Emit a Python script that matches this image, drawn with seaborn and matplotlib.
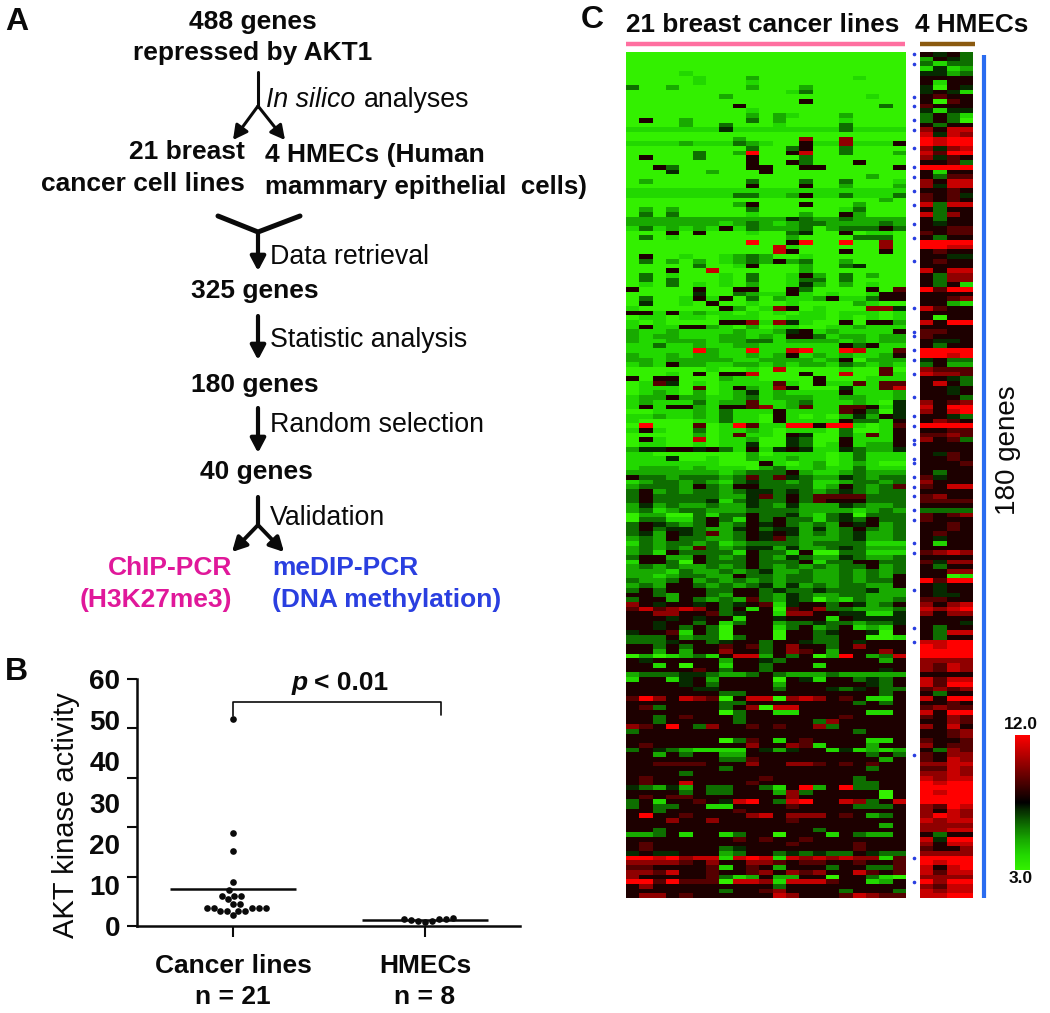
import numpy as np
import pandas as pd
import matplotlib
matplotlib.use("Agg")
import matplotlib.pyplot as plt
from matplotlib.colors import LinearSegmentedColormap
import seaborn as sns

# ── DATA ─────────────────────────────────────────────────────
# panel B
cancer_lines = [50.3, 22.6, 18.2, 10.7, 8.7, 7.4, 7.4, 7.4, 6.5, 5.4, 5.4,
                4.4, 4.4, 4.4, 4.4, 4.4, 3.6, 3.6, 3.6, 3.6, 2.6]
hmecs = [1.9, 1.7, 1.4, 1.2, 0.9, 1.2, 1.6, 1.8]
group_names = ["Cancer lines\nn = 21", "HMECs\nn = 8"]

# panel C, one digit per cell, expression = digit + 3 (3.0 to 12.0)
cancer_rows = [
    "000000000000000000000", "000000000000000000000", "000000000000000000000", "000000000000000000000",
    "000010000000000000000", "000001000200000001000", "000001000100000000000", "300200000200020000000",
    "000000000000130000000", "000000020000000000100", "000000000000050000000", "000000005000000000030",
    "000000000100000000000", "000000000202100020000", "050020000302000010000", "000020030001000030000",
    "111111141111111131111", "000000000000000000000", "000000002000070070000", "111121113210051171115",
    "000000000300350030000", "000003002900580030002", "050003000500030000000", "000000000500530005000",
    "005300000550055000005", "000400200050000000000", "000000000000000000200", "020000000300030030001",
    "000000000500050020002", "111111111111111111111", "111111113311251131113", "000000000000000000020",
    "000000002500050002000", "020200000300000013000", "030300000100020052000", "222222222222432232222",
    "222222212321233222232", "131212151322230233353", "000505000100340050110", "030100000000200003330",
    "000000000900590090070", "000000000008100000070", "000000000008500050050", "050010012320010000000",
    "030202012325230020000", "000003001500020034000", "000500800000020000000", "030100010300152030200",
    "030300010300133030000", "010301010200142020100", "500005005500530000506", "000004003211510100155",
    "030015150302112511355",
    # rows 54-117
    "040010500100100002100", "100000052017501000774", "551512110101011011101", "011011011100111010101",
    "101000055717410050552", "151155210201100112111", "211211112112451211115", "212211122121553122122",
    "211222122331222212122", "113112112211111153511", "111119211911891198116", "211212211212512121125",
    "221222221122221250222", "121522112212122132121", "000000100108000010060", "000105055800050080061",
    "505500021100005000111", "016401011116105116166", "011106015217500041168", "012102012412111151112",
    "122522112312221122112", "121113122611231112104", "151552155671261166514", "001112131115111165304",
    "112112131105101024254", "100001131105111153315", "090006019611995991016", "151003011210111030015",
    "000002016110540031615", "051008011200430051115", "011001011400430151225", "244554531514541143224",
    "110000000201111013111", "111400100211211013111", "111111100051012012100", "122212111023112113111",
    "222222212333521123222", "533233323636432243233", "123323213433231123323", "233325325533331253236",
    "352323323443432343233", "353333322463536666333", "353333413433536555333", "242322322432422243223",
    "231233222333322221232", "022003133533421340333", "033113531535331343533", "354323523545323254523",
    "353443224534424235323", "342543623545423234223", "232533223546322234223", "132332312333323333111",
    "232326323442422343222", "231533331533150033111", "355225323532432243223", "155305333533351335533",
    "232322323532323233523", "222132232342232232323", "221233225332332232325", "322352323232332232335",
    "232553232342423233225", "353555335534334333422", "553255325532432233222", "355253232632430213223",
    # rows 118-180
    "754554534561455354235", "686787535150657332223", "557755634551775544114", "555454551554555154444",
    "554553513552334332334", "554535305551352351215", "455615305550553455405", "333523303550553355001",
    "333455345535543354555", "553535565635755357555", "552525575535765255575", "020123158825350295238",
    "545555525543555555525", "551505515535551555555", "555556535535555555545", "233344322353222322222",
    "155145255550541553435", "555545355552555555435", "555554455553555434533", "555555533555555555535",
    "697587605880787565115", "555555533555555553535", "563555535708855555555", "555555503551155555115",
    "553565553555555565555", "553555553555553755555", "765953755656557355555", "355555555555555553555",
    "555555555555555555555", "555555503651565555115", "565555555755761555255", "354321111542455141212",
    "552535522555555555353", "555555533655555555525", "556666555755776565655", "555555535555555555355",
    "555535555555555555555", "565555555565555553555", "565585555655555553355", "432425335531592593355",
    "555535335552735555505", "565665555555755555505", "351556548953895587358", "353355115555655553335",
    "553555556555555555555", "595565555785777565235", "555755755555655555555", "555555555555555555525",
    "553555555555553555555", "223515513550555153225", "555555556565565555555", "565555555555655556555",
    "565555534555555556555", "454455523553434335433", "998978818981878787716", "777765755776566556556",
    "665555615652555355336", "776855655675767558656", "755555631252255055310", "996966608871888655125",
    "575555555553555555555", "555555535567555535553", "577565555558755568766",
]
hmec_rows = [
    "5453", "2543", "3133", "1412", "4423", "5555", "5155", "4054", "4541", "5655", "5065", "6555", "4144",
    "3531", "3530", "5355", "7588", "8487", "9899", "9899", "7478", "8699", "7465", "5563", "9999", "5155",
    "5366", "7588", "7488", "5565", "6564", "6565", "8388", "5355", "8375", "5355", "5455", "5566", "6566",
    "5355", "9999", "9988", "5655", "5544", "5655", "5555", "8588", "5377", "5377", "5351", "9699", "5555",
    "5567",
    "5521", "8655", "5555", "5055", "8599", "5555", "6655", "6555", "5445", "5355", "9999", "9989", "4533",
    "3522", "7666", "8776", "5543", "5853", "5545", "5545", "5553", "7567", "8599", "7589", "5543", "5765",
    "9999", "5566", "6676", "7563", "5555", "5555", "5465", "5565", "5556", "5555", "5355", "6455", "7555",
    "6588", "5555", "6755", "6666", "5555", "3333", "6567", "6555", "5565", "5565", "5655", "5455", "5155",
    "5555", "6787", "5555", "6477", "5355", "5577", "5501", "9699", "5455", "5455", "5445", "6655",
    "7578", "8789", "7577", "5555", "5554", "5355", "5388", "5355", "8899", "9899", "9999", "9999", "7777",
    "7687", "7687", "5555", "8688", "8699", "6767", "5355", "8599", "5565", "6766", "8599", "6576", "5576",
    "7585", "5567", "5567", "6556", "7566", "5376", "6577", "6587", "7788", "6687", "7787", "8788", "9899",
    "9999", "9899", "9999", "9999", "7698", "7587", "7987", "8788", "7777", "7788", "5355", "8499", "7588",
    "6557", "7777", "9999", "9899", "8589", "8688", "7777", "9799", "7688", "8788", "8899",
]
# rows flagged with a small blue mark right of the heat map
marked_rows = [0, 2, 9, 11, 14, 16, 20, 24, 26, 29, 32, 36, 39, 44, 54, 59, 60, 63, 65, 68, 73, 77, 79,
               82, 83, 86, 87, 90, 92, 94, 97, 99, 104, 106, 114, 122, 125, 149, 171, 176]

# ── SETUP ────────────────────────────────────────────────────
W, H = 1050, 1013
INK = '#0a0a0a'
sns.set_style("ticks")
plt.rcParams['font.family'] = ['Liberation Sans', 'DejaVu Sans']

fig = plt.figure(figsize=(W / 100, H / 100), dpi=100)


def ax_px(x0, y0, x1, y1):
    # axes from pixel box, origin top left
    return fig.add_axes([x0 / W, 1 - y1 / H, (x1 - x0) / W, (y1 - y0) / H])


overlay = ax_px(0, 0, W, H)
overlay.set_xlim(0, W)
overlay.set_ylim(H, 0)
overlay.axis('off')
overlay.set_zorder(5)


def txt(x, y, s, size=19, weight='bold', ha='center', color=INK, **kw):
    overlay.text(x, y + 2, s, fontsize=size, fontweight=weight, ha=ha, va='center', color=color, **kw)


def arrow(x0, y0, x1, y1, lw=2.2):
    overlay.annotate("", xy=(x1, y1), xytext=(x0, y0),
                     arrowprops=dict(arrowstyle='-|>,head_width=0.45,head_length=0.85', lw=lw,
                                     color=INK, shrinkA=0, shrinkB=0))


# ── A. FLOW CHART ────────────────────────────────────────────
txt(5, 20, "A", size=23, ha='left')
txt(253, 20, "488 genes")
txt(253, 51, "repressed by AKT1")
overlay.plot([258, 258], [72, 107], color=INK, lw=2.2)
arrow(258, 106, 233, 140)
arrow(258, 106, 285, 140)
txt(266, 98, "In silico", size=19.3, weight='normal', ha='left', style='italic')
txt(364, 98, "analyses", size=19.3, weight='normal', ha='left')
txt(245, 150, "21 breast", ha='right')
txt(245, 182, "cancer cell lines", ha='right')
txt(265, 153, "4 HMECs (Human", ha='left')
txt(265, 185, "mammary epithelial  cells)", size=18.6, ha='left')
overlay.plot([218, 258, 300], [216, 232, 216], color=INK, lw=3.6)
arrow(258, 232, 258, 271, lw=3)
txt(270, 255, "Data retrieval", size=19.3, weight='normal', ha='left')
txt(255, 289, "325 genes")
arrow(258, 316, 258, 360, lw=3)
txt(270, 338, "Statistic analysis", size=19.3, weight='normal', ha='left')
txt(255, 383, "180 genes")
arrow(258, 408, 258, 453, lw=3)
txt(270, 423, "Random selection", size=19.3, weight='normal', ha='left')
txt(256, 470, "40 genes")
overlay.plot([258, 258], [497, 526], color=INK, lw=3)
arrow(258, 525, 232, 552, lw=2.8)
arrow(258, 525, 284, 552, lw=2.8)
txt(270, 516, "Validation", size=19.3, weight='normal', ha='left')
txt(232, 566, "ChIP-PCR", ha='right', color='#e0189a')
txt(232, 598, "(H3K27me3)", ha='right', color='#e0189a')
txt(272, 566, "meDIP-PCR", ha='left', color='#2a3fe0')
txt(272, 598, "(DNA methylation)", ha='left', color='#2a3fe0')

# ── B. AKT ACTIVITY ──────────────────────────────────────────
txt(5, 670, "B", size=23, ha='left')
df = pd.DataFrame({
    "group": [group_names[0]] * len(cancer_lines) + [group_names[1]] * len(hmecs),
    "activity": cancer_lines + hmecs,
})
ax_b = ax_px(137, 679, 520, 926)
sns.swarmplot(data=df, x="group", y="activity", color=INK, size=4.8, ax=ax_b)
ax_b.hlines([np.mean(cancer_lines), np.mean(hmecs)], [-0.33, 0.67], [0.33, 1.33],
            color=INK, lw=1.8, zorder=5)
ax_b.set_xlim(-0.5, 1.495)
ax_b.set_ylim(0, 60)
ax_b.set_xlabel("")
ax_b.set_ylabel("AKT kinase activity", fontsize=21, color=INK)
ax_b.yaxis.set_label_coords(-0.15, 0.45)
# tick marks and printed numbers do not line up in the original, so keep them apart
ax_b.yaxis.remove_overlapping_locs = False
ax_b.set_yticks([0, 12, 24, 36, 48, 60])
ax_b.set_yticklabels([])
ax_b.set_yticks(np.arange(0, 70, 10), minor=True)
ax_b.set_yticklabels([str(v) for v in range(0, 70, 10)], minor=True, fontsize=20, fontweight='bold')
ax_b.tick_params(axis='y', which='major', length=7, width=1.5, color=INK)
ax_b.tick_params(axis='y', which='minor', length=0, pad=12, labelcolor=INK)
ax_b.tick_params(axis='x', length=8, width=1.5, color=INK, pad=12)
for lab in ax_b.get_xticklabels():
    lab.set_fontsize(19)
    lab.set_fontweight('bold')
    lab.set_color(INK)
    lab.set_linespacing(1.4)
sns.despine(ax=ax_b)
for side in ['left', 'bottom']:
    ax_b.spines[side].set_linewidth(1.8)
    ax_b.spines[side].set_color(INK)
ax_b.patch.set_alpha(0)

overlay.plot([233, 233, 441, 441], [716, 702, 702, 715], color=INK, lw=1.2)
txt(300, 681, "p", style='italic')
txt(314, 681, "< 0.01", ha='left')

# ── C. HEAT MAP ──────────────────────────────────────────────
txt(592, 18, "C", size=23, ha='center')
expr_cancer = np.array([[int(c) + 3 for c in r] for r in cancer_rows], dtype=float)
expr_hmec = np.array([[int(c) + 3 for c in r] for r in hmec_rows], dtype=float)
gr = LinearSegmentedColormap.from_list("gr", [(0.0, '#33f000'), (0.11, '#22d800'), (0.22, '#18aa00'),
                                              (0.33, '#0e7000'), (0.44, '#062c00'), (0.5, '#000000'),
                                              (1.0, '#ff0000')])

ax_c = ax_px(626, 52, 906, 898)
ax_h = ax_px(920, 52, 973, 898)
ax_cb = ax_px(1015, 735, 1030, 870)
sns.heatmap(expr_cancer, ax=ax_c, cmap=gr, vmin=3, vmax=12, xticklabels=False, yticklabels=False,
            cbar_ax=ax_cb, cbar_kws={'ticks': []})
sns.heatmap(expr_hmec, ax=ax_h, cmap=gr, vmin=3, vmax=12, xticklabels=False, yticklabels=False, cbar=False)
ax_c.collections[0].colorbar.outline.set_visible(False)

# blue marks next to the heat map
ax_c.plot(np.full(len(marked_rows), 21.6), np.array(marked_rows) + 0.5, ls='none', marker='o', ms=1.6,
          color='#2a3fe0', clip_on=False)

txt(626, 23, "21 breast cancer lines", ha='left', size=18.8)
txt(915, 23, "4 HMECs", ha='left', size=18.8)
overlay.plot([626, 905], [44, 44], color='#ff6fa0', lw=3.2, solid_capstyle='butt')
overlay.plot([920, 975], [44, 44], color='#8b5a10', lw=3.2, solid_capstyle='butt')
overlay.plot([984, 984], [55, 898], color='#2a6cf0', lw=3, solid_capstyle='butt')
txt(1008, 448, "180 genes", size=20, weight='normal', rotation=90)
txt(1021, 722, "12.0", size=12.5)
txt(1021, 876, "3.0", size=12.5)

plt.savefig("out.png", dpi=100)
plt.close()
